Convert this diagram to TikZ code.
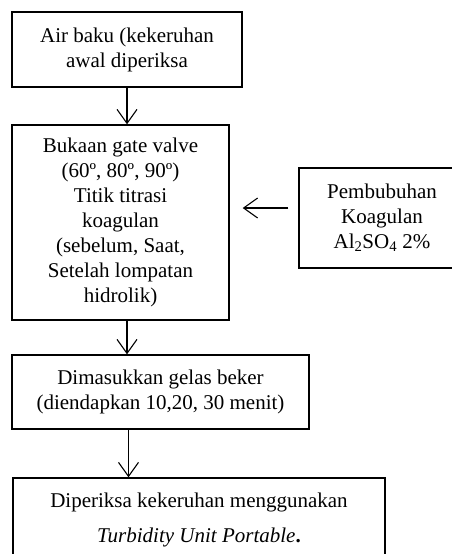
\documentclass[tikz,border=0pt]{standalone}
\usepackage{fontspec}
\setmainfont{Liberation Serif}
\usetikzlibrary{arrows.meta,positioning,calc}

\begin{document}
\begin{tikzpicture}[x=1pt,y=1pt,
		kotak/.style={draw,line width=1.4pt,align=center,inner sep=0pt,font=\fontsize{21}{25}\selectfont},
		panah/.style={line width=1.1pt,-{Straight Barb[length=14pt,width=20pt]}}]
		\useasboundingbox (0,0) rectangle (451,-554);
		\node[kotak,minimum width=230,minimum height=75] (baku) at (127,-49.5) {Air baku (kekeruhan\\awal diperiksa};
		\node[kotak,minimum width=217,minimum height=195] (valve) at (120.5,-222.5) {Bukaan gate valve\\(60º, 80º, 90º)\\Titik titrasi\\koagulan\\(sebelum, Saat,\\Setelah lompatan\\hidrolik)};
		\node[kotak,minimum width=166,minimum height=100] (koag) at (382,-218) {Pembubuhan\\Koagulan\\Al\textsubscript{2}SO\textsubscript{4} 2\%};
		\node[kotak,minimum width=297,minimum height=74] (gelas) at (160.5,-392) {Dimasukkan gelas beker\\(diendapkan 10,20, 30 menit)};
		\node[kotak,minimum width=372,minimum height=83,font=\fontsize{21}{35}\selectfont] (turbid) at (199,-519.5) {Diperiksa kekeruhan menggunakan\\\textit{Turbidity Unit Portable}\textbf{.}};
		% alur utama
		\draw[panah] (baku.south) -- (baku.south |- valve.north);
		\draw[panah] (baku.south |- valve.south) -- (baku.south |- gelas.north);
		\draw[panah] ([xshift=1.5pt]baku.south |- gelas.south) -- ([xshift=1.5pt]baku.south |- turbid.north);
		% penambahan koagulan
		\draw[panah,shorten <=10pt,shorten >=13pt] ([yshift=10pt]koag.west) -- ([yshift=10pt]koag.west -| valve.east);
		\end{tikzpicture}
\end{document}
